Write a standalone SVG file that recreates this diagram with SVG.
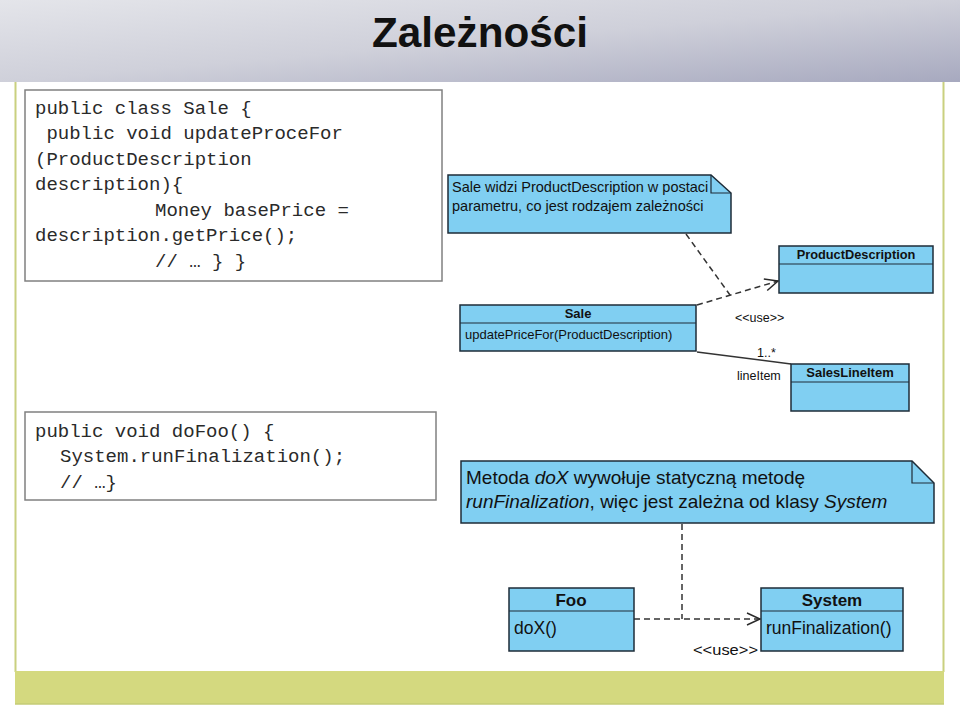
<svg xmlns="http://www.w3.org/2000/svg" width="960" height="707" viewBox="0 0 960 707">
<defs>
<linearGradient id="hdr" x1="0" y1="0" x2="1" y2="1">
<stop offset="0" stop-color="#e4e5ea"/>
<stop offset="0.5" stop-color="#cfd0da"/>
<stop offset="1" stop-color="#a7a9bf"/>
</linearGradient>
<marker id="open" markerWidth="16" markerHeight="14" refX="14" refY="7" orient="auto" markerUnits="userSpaceOnUse">
<path d="M1,1 L14,7 L1,13" fill="none" stroke="#2a2a2a" stroke-width="1.5"/>
</marker>
<style>
.code{font-family:"Liberation Mono","Courier New",monospace;font-size:19px;fill:#2a2a2a;}
.box{fill:#fff;stroke:#808080;stroke-width:1.5;}
.cls{fill:#80cff2;stroke:#1e2c38;stroke-width:1.5;}
.div{stroke:#1e2c38;stroke-width:1.2;}
.t{font-family:"Liberation Sans",Arial,sans-serif;fill:#111;}
.b{font-weight:bold;}
.dash{fill:none;stroke:#333;stroke-width:1.5;stroke-dasharray:6,4;}
</style>
</defs>
<rect x="0" y="0" width="960" height="707" fill="#fff"/>
<rect x="0" y="0" width="960" height="82" fill="url(#hdr)"/>
<text x="480" y="47" text-anchor="middle" class="t b" font-size="42" textLength="216" lengthAdjust="spacingAndGlyphs">Zależności</text>
<line x1="15.5" y1="82" x2="15.5" y2="672" stroke="#c9d07f" stroke-width="2"/>
<line x1="943.5" y1="82" x2="943.5" y2="672" stroke="#c9d07f" stroke-width="2"/>
<rect x="15" y="671" width="929" height="33" fill="#d4d97f"/>
<line x1="15" y1="704" x2="944" y2="704" stroke="#c5cb76" stroke-width="1.5"/>

<g id="code1">
<rect x="25" y="90" width="417" height="191" class="box"/>
<text class="code">
<tspan x="35" y="114">public class Sale {</tspan>
<tspan x="35" y="139" xml:space="preserve"> public void updateProceFor</tspan>
<tspan x="35" y="165">(ProductDescription</tspan>
<tspan x="35" y="190">description){</tspan>
<tspan x="155" y="216">Money basePrice =</tspan>
<tspan x="35" y="241">description.getPrice();</tspan>
<tspan x="155" y="267">// … } }</tspan>
</text>
</g>

<g id="code2">
<rect x="25" y="412" width="411" height="88" class="box"/>
<text class="code">
<tspan x="35" y="437">public void doFoo() {</tspan>
<tspan x="60" y="462">System.runFinalization();</tspan>
<tspan x="60" y="488">// …}</tspan>
</text>
</g>

<g id="connectors">
<path d="M697,305 L778,281" class="dash" marker-end="url(#open)"/>
<path d="M686,234 L730,295" class="dash"/>
<path d="M697,352 L791,364" fill="none" stroke="#333" stroke-width="1.5"/>
<path d="M634,619 L760,619" class="dash" marker-end="url(#open)"/>
<path d="M682,524 L682,619" class="dash"/>
<text x="735" y="322" class="t" font-size="12.5">&lt;&lt;use&gt;&gt;</text>
<text x="757" y="357" class="t" font-size="12.5">1..*</text>
<text x="737" y="380" class="t" font-size="12.5">lineItem</text>
<text x="693" y="655" class="t" font-size="15" textLength="65" lengthAdjust="spacingAndGlyphs">&lt;&lt;use&gt;&gt;</text>
</g>

<g id="note1">
<path d="M448,175 L711,175 L731,193 L731,233 L448,233 Z" class="cls"/>
<path d="M711,175 L711,193 L731,193" fill="none" stroke="#1e2c38" stroke-width="1.2"/>
<text class="t" font-size="14.5"><tspan x="452" y="192">Sale widzi ProductDescription w postaci</tspan><tspan x="452" y="211">parametru, co jest rodzajem zależności</tspan></text>
</g>

<g id="productdescription">
<rect x="779" y="246" width="154" height="47" class="cls"/>
<line x1="779" y1="264" x2="933" y2="264" class="div"/>
<text x="856" y="259" text-anchor="middle" class="t b" font-size="12.8">ProductDescription</text>
</g>

<g id="sale">
<rect x="460" y="305" width="236" height="46" class="cls"/>
<line x1="460" y1="323" x2="696" y2="323" class="div"/>
<text x="578" y="318" text-anchor="middle" class="t b" font-size="13">Sale</text>
<text x="465" y="339" class="t" font-size="13">updatePriceFor(ProductDescription)</text>
</g>

<g id="saleslineitem">
<rect x="791" y="364" width="118" height="47" class="cls"/>
<line x1="791" y1="382" x2="909" y2="382" class="div"/>
<text x="850" y="377" text-anchor="middle" class="t b" font-size="13">SalesLineItem</text>
</g>

<g id="note2">
<path d="M461,461 L912,461 L934,483 L934,523 L461,523 Z" class="cls"/>
<path d="M912,461 L912,483 L934,483" fill="none" stroke="#1e2c38" stroke-width="1.2"/>
<text class="t" font-size="19"><tspan x="466" y="484">Metoda <tspan font-style="italic">doX</tspan> wywołuje statyczną metodę</tspan><tspan x="466" y="508"><tspan font-style="italic">runFinalization</tspan>, więc jest zależna od klasy <tspan font-style="italic">System</tspan></tspan></text>
</g>

<g id="foo">
<rect x="509" y="588" width="125" height="63" class="cls"/>
<line x1="509" y1="611" x2="634" y2="611" class="div"/>
<text x="571" y="606" text-anchor="middle" class="t b" font-size="17">Foo</text>
<text x="514" y="634" class="t" font-size="17.5">doX()</text>
</g>

<g id="system">
<rect x="761" y="588" width="142" height="63" class="cls"/>
<line x1="761" y1="611" x2="903" y2="611" class="div"/>
<text x="832" y="606" text-anchor="middle" class="t b" font-size="17">System</text>
<text x="766" y="634" class="t" font-size="17.5">runFinalization()</text>
</g>
</svg>
